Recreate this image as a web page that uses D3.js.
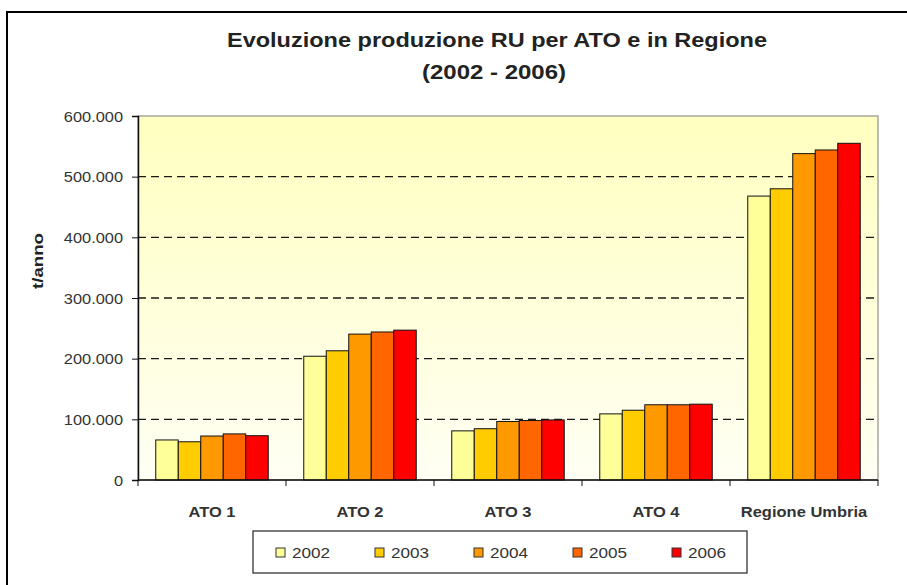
<!DOCTYPE html>
<meta charset="utf-8">
<script src="https://d3js.org/d3.v7.min.js"></script>
<style>
  body { margin: 0; background: #fff; }
  text { font-family: "Liberation Sans", Arial, sans-serif; }
</style>
<div id="my_dataviz"></div>
<script>

// categories and series
var categories = ["ATO 1", "ATO 2", "ATO 3", "ATO 4", "Regione Umbria"]
var years = ["2002", "2003", "2004", "2005", "2006"]
var v2002 = [66000, 204000, 81000, 109000, 468000]
var v2003 = [63000, 213000, 84500, 115000, 480000]
var v2004 = [72500, 240500, 96500, 124000, 538000]
var v2005 = [76000, 244000, 98000, 124000, 544000]
var v2006 = [73000, 247000, 99000, 125000, 555000]
var yTicks = [0, 100000, 200000, 300000, 400000, 500000, 600000]

var colors = ["#ffff99", "#ffcc00", "#ff9900", "#ff6600", "#ff0000"]
var series = [v2002, v2003, v2004, v2005, v2006]

var W = 907, H = 585
var margin = {top: 116, left: 138, right: 29, bottom: 105}
var width = W - margin.left - margin.right,
    height = H - margin.top - margin.bottom

// the source picture is a bit wider than tall, so text gets stretched sideways
var SX = 1.17
function stretch(x, y, s) { return "translate(" + x + "," + y + ") scale(" + (s || SX) + ",1)" }

var svg = d3.select("#my_dataviz")
  .append("svg")
  .attr("width", W)
  .attr("height", H)

// outer frame (runs off the picture right and bottom)
svg.append("rect")
  .attr("x", 7).attr("y", 12)
  .attr("width", 920).attr("height", 600)
  .attr("fill", "none").attr("stroke", "#000").attr("stroke-width", 2)

// title
svg.append("text").attr("x", 497).attr("y", 47)
  .attr("text-anchor", "middle").style("font-size", "20px").style("font-weight", "bold")
  .attr("fill", "#222")
  .attr("textLength", 540).attr("lengthAdjust", "spacingAndGlyphs")
  .text("Evoluzione produzione RU per ATO e in Regione")
svg.append("text").attr("x", 494).attr("y", 79)
  .attr("text-anchor", "middle").style("font-size", "20px").style("font-weight", "bold")
  .attr("fill", "#222")
  .attr("textLength", 144).attr("lengthAdjust", "spacingAndGlyphs")
  .text("(2002 - 2006)")

var defs = svg.append("defs")
var grad = defs.append("linearGradient").attr("id", "bg")
  .attr("x1", 0).attr("y1", 0).attr("x2", 0).attr("y2", 1)
grad.append("stop").attr("offset", "0%").attr("stop-color", "#ffffc0")
grad.append("stop").attr("offset", "100%").attr("stop-color", "#fffff4")

var g = svg.append("g")
  .attr("transform", "translate(" + margin.left + "," + margin.top + ")")

g.append("rect")
  .attr("width", width).attr("height", height)
  .attr("fill", "url(#bg)")
  .attr("stroke", "#a8a8a0").attr("stroke-width", 1.5)

var x = d3.scaleBand()
  .domain(categories)
  .range([0, width])
  .paddingInner(0.24)
  .paddingOuter(0.12)

var xSub = d3.scaleBand()
  .domain(years)
  .range([0, x.bandwidth()])

var y = d3.scaleLinear()
  .domain([0, 600000])
  .range([height, 0])

// dashed gridlines
g.append("g").selectAll("line")
  .data(yTicks.filter(function(d) { return d > 0 && d < 600000 }))
  .enter().append("line")
  .attr("x1", 0).attr("x2", width)
  .attr("y1", function(d) { return y(d) }).attr("y2", function(d) { return y(d) })
  .attr("stroke", "#1a1a1a").attr("stroke-width", 1.3)
  .attr("stroke-dasharray", "8,5")

// bars
g.append("g").selectAll("g")
  .data(categories)
  .enter().append("g")
  .attr("transform", function(d) { return "translate(" + x(d) + ",0)" })
  .selectAll("rect")
  .data(function(d, i) { return years.map(function(yr, j) { return {key: yr, value: series[j][i], c: colors[j]} }) })
  .enter().append("rect")
  .attr("x", function(d) { return xSub(d.key) })
  .attr("y", function(d) { return y(d.value) })
  .attr("width", xSub.bandwidth())
  .attr("height", function(d) { return height - y(d.value) })
  .attr("fill", function(d) { return d.c })
  .attr("stroke", "#111").attr("stroke-width", 1)

// y axis
var yAxis = g.append("g")
  .call(d3.axisLeft(y).tickValues(yTicks).tickSize(6)
    .tickFormat(function(d) { return d === 0 ? "0" : d3.format(",")(d).replace(/,/g, ".") }))
yAxis.select(".domain").attr("stroke", "#111").attr("stroke-width", 1.5)
yAxis.selectAll(".tick line").attr("stroke", "#111")
yAxis.selectAll(".tick text")
  .attr("x", 0).attr("dy", "0.36em")
  .attr("transform", stretch(-15, 0))
  .attr("font-family", null).attr("font-size", null)
  .style("font-size", "14px").attr("fill", "#333")

// x axis: ticks at category boundaries
var bounds = categories.map(function(c) { return x(c) - x.step() * x.paddingInner() / 2 })
bounds.push(width)
var xAxis = g.append("g").attr("transform", "translate(0," + height + ")")
xAxis.append("line").attr("x1", 0).attr("x2", width)
  .attr("stroke", "#111").attr("stroke-width", 1.5)
xAxis.selectAll("line.tk").data(bounds).enter().append("line")
  .attr("class", "tk")
  .attr("x1", function(d) { return d }).attr("x2", function(d) { return d })
  .attr("y1", 0).attr("y2", 6).attr("stroke", "#111")
xAxis.selectAll("text").data(categories).enter().append("text")
  .attr("transform", function(d) { return stretch(x(d) + x.bandwidth() / 2, 37, 1.1) })
  .attr("text-anchor", "middle")
  .style("font-size", "15px").style("font-weight", "bold").attr("fill", "#333")
  .text(function(d) { return d })

// y label
svg.append("text")
  .attr("transform", "translate(43,261) rotate(-90)")
  .attr("text-anchor", "middle")
  .style("font-size", "15px").style("font-weight", "bold").attr("fill", "#222")
  .attr("textLength", 56).attr("lengthAdjust", "spacingAndGlyphs")
  .text("t/anno")

// legend
var lg = svg.append("g")
lg.append("rect").attr("x", 253).attr("y", 531).attr("width", 494).attr("height", 42)
  .attr("fill", "#fff").attr("stroke", "#333").attr("stroke-width", 1.3)
var lx = d3.scalePoint().domain(years).range([276, 672])
years.forEach(function(yr, j) {
  lg.append("rect").attr("x", lx(yr)).attr("y", 548).attr("width", 9).attr("height", 9)
    .attr("fill", colors[j]).attr("stroke", "#333").attr("stroke-width", 1)
  lg.append("text").attr("transform", stretch(lx(yr) + 16, 558, 1.18))
    .style("font-size", "14.5px").attr("fill", "#333")
    .text(yr)
})

</script>
